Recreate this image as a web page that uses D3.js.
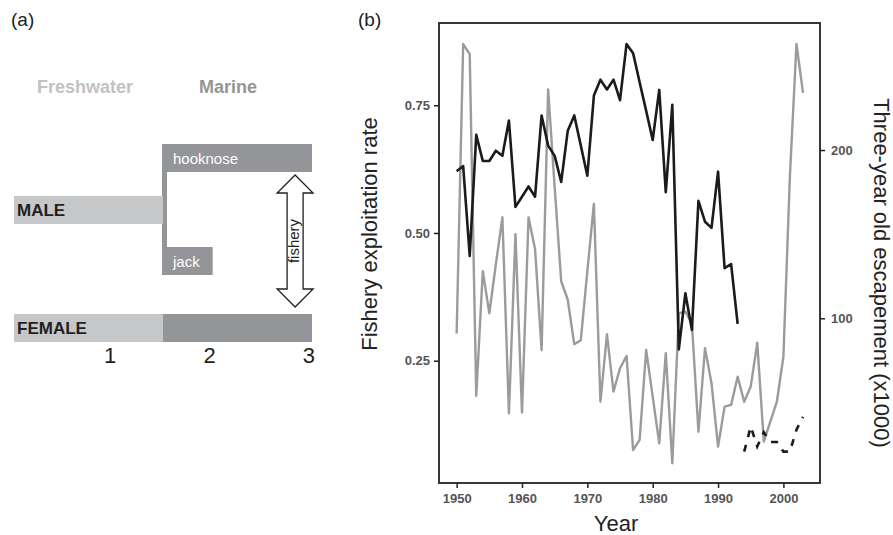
<!DOCTYPE html>
<html>
	<head>
		<meta charset="utf-8">
		<script src="https://cdnjs.cloudflare.com/ajax/libs/d3/7.8.5/d3.min.js" charset="utf-8"></script>
		<style>
			body {
				margin: 0;
				background: #fff;
				font-family: 'Liberation Sans', Arial, sans-serif;
			}
		</style>
	</head>
	<body>

		<div id="figure"></div>

		<script type="text/javascript">

			//////////////////////////////// Data //////////////////////////////
			// panel (a): life history, ages in years
			var stageLabels = ["Freshwater", "Marine"];
			var ageTicks = [1, 2, 3];
			var lifeBars = [
				{ row: "male", from: 0, to: 1.5, tone: "fresh", text: "MALE" },
				{ row: "female", from: 0, to: 1.5, tone: "fresh", text: "FEMALE" },
				{ row: "female", from: 1.5, to: 3, tone: "marine", text: "" },
				{ row: "hooknose", from: 1.5, to: 3, tone: "marine", text: "hooknose" },
				{ row: "jack", from: 1.5, to: 2, tone: "marine", text: "jack" }
			];

			// panel (b): time series
			var years = d3.range(1950, 2004);
			var exploitation = [
				0.621, 0.631, 0.455, 0.692, 0.641, 0.641, 0.661, 0.651, 0.720, 0.551,
				0.571, 0.591, 0.571, 0.730, 0.671, 0.651, 0.600, 0.700, 0.730, 0.671,
				0.612, 0.769, 0.800, 0.781, 0.800, 0.760, 0.870, 0.852, 0.795, 0.739,
				0.682, 0.780, 0.580, 0.751, 0.272, 0.382, 0.310, 0.563, 0.522, 0.510,
				0.620, 0.431, 0.439, 0.322, 0.072, 0.121, 0.082, 0.110, 0.091, 0.091,
				0.072, 0.072, 0.115, 0.140
			];
			var lastSolidYear = 1993;
			var escapement = [
				91, 263, 257, 54, 128, 103, 132, 160, 43.5, 150,
				44, 160, 141, 81, 236, 178, 122, 111, 84.5, 87,
				128, 168, 50.5, 90.5, 56.4, 70.3, 77.6, 21.7, 27.7, 81.2,
				53.4, 25.7, 79.2, 13.8, 103, 104, 97, 32.6, 82.2, 61.4,
				23.7, 47.5, 48.5, 65.3, 50.4, 59.4, 85.5, 26.7, 38.6, 50.4,
				77.2, 185, 263, 234
			];
			var yearTicks = [1950, 1960, 1970, 1980, 1990, 2000];
			var rateTicks = [0.25, 0.50, 0.75];
			var escTicks = [100, 200];

			var svg = d3.select("#figure")
				.append("svg")
				.attr("width", 893)
				.attr("height", 535);

			var lightGrey = "#c6c7c9",
				darkGrey = "#939598";

			//////////////////////////////// Panel (a) //////////////////////////////
			var pa = svg.append("g");

			pa.append("text")
				.attr("x", 11).attr("y", 26)
				.style("font-size", "19px")
				.style("fill", "#222")
				.text("(a)");

			var ageX = d3.scaleLinear().domain([0, 3]).range([14, 312]);
			var rowY = d3.scaleOrdinal()
				.domain(["hooknose", "male", "jack", "female"])
				.range([144, 196, 247, 314]);
			var barH = 28;

			pa.selectAll(".stage")
				.data(stageLabels)
				.enter().append("text")
				.attr("class", "stage")
				.attr("x", function(d, i) { return i == 0 ? 85 : 228; })
				.attr("y", 93)
				.attr("text-anchor", "middle")
				.style("font-size", "18px")
				.style("font-weight", "bold")
				.style("fill", function(d, i) { return i == 0 ? "#c2c2c2" : "#959595"; })
				.text(function(d) { return d; });

			//connector between hooknose and jack
			pa.append("rect")
				.attr("x", ageX(1.5) - 1)
				.attr("y", rowY("hooknose"))
				.attr("width", 5)
				.attr("height", rowY("jack") + barH - rowY("hooknose"))
				.style("fill", darkGrey);

			pa.selectAll(".lifeBar")
				.data(lifeBars)
				.enter().append("rect")
				.attr("class", "lifeBar")
				.attr("x", function(d) { return ageX(d.from); })
				.attr("y", function(d) { return rowY(d.row); })
				.attr("width", function(d) { return ageX(d.to) - ageX(d.from); })
				.attr("height", barH)
				.style("fill", function(d) { return d.tone == "fresh" ? lightGrey : darkGrey; });

			pa.selectAll(".barText")
				.data(lifeBars.filter(function(d) { return d.text != ""; }))
				.enter().append("text")
				.attr("class", "barText")
				.attr("x", function(d) { return ageX(d.from) + (d.tone == "fresh" ? 3 : 10); })
				.attr("y", function(d) { return rowY(d.row) + 20; })
				.style("font-size", function(d) { return d.tone == "fresh" ? "17px" : "15px"; })
				.style("font-weight", function(d) { return d.tone == "fresh" ? "bold" : "normal"; })
				.style("fill", function(d) { return d.tone == "fresh" ? "#231f20" : "#fff"; })
				.text(function(d) { return d.text; });

			pa.selectAll(".ageTick")
				.data(ageTicks)
				.enter().append("text")
				.attr("class", "ageTick")
				.attr("x", function(d) { return ageX(d) + 3; })
				.attr("y", 363)
				.attr("text-anchor", "end")
				.style("font-size", "22px")
				.style("fill", "#231f20")
				.text(function(d) { return d; });

			//double headed fishery arrow
			var ax = ageX(2.83),
				y0 = rowY("hooknose") + barH + 3,
				y1 = rowY("female") - 7,
				hw = 18, sw = 8, hh = 18;
			var arrowPts = [
				[ax, y0], [ax + hw, y0 + hh], [ax + sw, y0 + hh], [ax + sw, y1 - hh], [ax + hw, y1 - hh],
				[ax, y1], [ax - hw, y1 - hh], [ax - sw, y1 - hh], [ax - sw, y0 + hh], [ax - hw, y0 + hh]
			];
			pa.append("path")
				.attr("d", "M" + arrowPts.join("L") + "Z")
				.style("fill", "#fff")
				.style("stroke", "#231f20")
				.style("stroke-width", 1.3);

			pa.append("text")
				.attr("transform", "translate(" + (ax + 4) + "," + ((y0 + y1) / 2) + ") rotate(-90)")
				.attr("text-anchor", "middle")
				.style("font-size", "15px")
				.style("fill", "#231f20")
				.text("fishery");

			//////////////////////////////// Panel (b) //////////////////////////////
			var pb = svg.append("g");
			var plotL = 439, plotR = 820, plotT = 23, plotB = 483;

			pb.append("text")
				.attr("x", 358).attr("y", 26)
				.style("font-size", "19px")
				.style("fill", "#222")
				.text("(b)");

			var x = d3.scaleLinear().domain([1947.3, 2005.6]).range([plotL, plotR]);
			var yRate = d3.scaleLinear().domain([0.0106, 0.911]).range([plotB, plotT]);
			var yEsc = d3.scaleLinear().domain([2.1, 275.5]).range([plotB, plotT]);

			var solid = years.map(function(d, i) { return [d, exploitation[i]]; })
				.filter(function(d) { return d[0] <= lastSolidYear; });
			var dashed = years.map(function(d, i) { return [d, exploitation[i]]; })
				.filter(function(d) { return d[0] > lastSolidYear; });
			var escData = years.map(function(d, i) { return [d, escapement[i]]; });

			var rateLine = d3.line()
				.x(function(d) { return x(d[0]); })
				.y(function(d) { return yRate(d[1]); });
			var escLine = d3.line()
				.x(function(d) { return x(d[0]); })
				.y(function(d) { return yEsc(d[1]); });

			pb.append("path")
				.datum(escData)
				.attr("d", escLine)
				.style("fill", "none")
				.style("stroke", "#9b9b9b")
				.style("stroke-width", 2.4)
				.style("stroke-linejoin", "round");

			pb.append("path")
				.datum(solid)
				.attr("d", rateLine)
				.style("fill", "none")
				.style("stroke", "#1b1b1b")
				.style("stroke-width", 2.6)
				.style("stroke-linejoin", "round");

			pb.append("path")
				.datum(dashed)
				.attr("d", rateLine)
				.style("fill", "none")
				.style("stroke", "#1b1b1b")
				.style("stroke-width", 2.6)
				.style("stroke-dasharray", "7,8");

			//frame
			pb.append("rect")
				.attr("x", plotL).attr("y", plotT)
				.attr("width", plotR - plotL).attr("height", plotB - plotT)
				.style("fill", "none")
				.style("stroke", "#222")
				.style("stroke-width", 1.8);

			var xAxis = pb.append("g")
				.attr("transform", "translate(0," + plotB + ")")
				.call(d3.axisBottom(x).tickValues(yearTicks).tickFormat(d3.format("d")).tickSize(5).tickPadding(6));
			var lAxis = pb.append("g")
				.attr("transform", "translate(" + plotL + ",0)")
				.call(d3.axisLeft(yRate).tickValues(rateTicks).tickFormat(d3.format(".2f")).tickSize(5).tickPadding(4));
			var rAxis = pb.append("g")
				.attr("transform", "translate(" + plotR + ",0)")
				.call(d3.axisRight(yEsc).tickValues(escTicks).tickSize(5).tickPadding(6));

			[xAxis, lAxis, rAxis].forEach(function(g) {
				g.select(".domain").remove();
				g.selectAll(".tick line").style("stroke", "#222").style("stroke-width", 1.5);
				g.selectAll(".tick text")
					.style("font-family", "'Liberation Sans', Arial, sans-serif")
					.style("font-size", "13px")
					.style("font-weight", "bold")
					.style("fill", "#555");
			});

			pb.append("text")
				.attr("x", 616).attr("y", 531)
				.attr("text-anchor", "middle")
				.style("font-size", "22px")
				.style("fill", "#222")
				.text("Year");

			pb.append("text")
				.attr("transform", "translate(377,234) rotate(-90)")
				.attr("text-anchor", "middle")
				.style("font-size", "22px")
				.style("fill", "#222")
				.text("Fishery exploitation rate");

			pb.append("text")
				.attr("transform", "translate(874,273) rotate(90)")
				.attr("text-anchor", "middle")
				.style("font-size", "22px")
				.style("fill", "#222")
				.text("Three-year old escapement (x1000)");

		</script>

	</body>
</html>
